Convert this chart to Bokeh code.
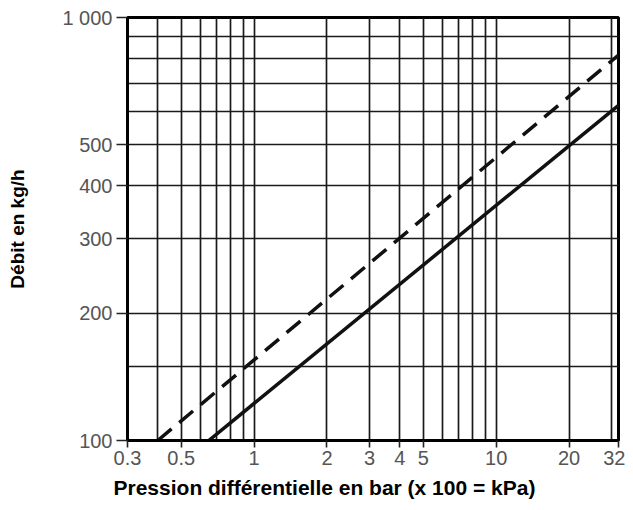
from bokeh.plotting import figure
from bokeh.models import FixedTicker, Title
from bokeh.embed import file_html
from bokeh.resources import INLINE

# Axis ticks / labels
x_ticks = [0.3, 0.5, 1, 2, 3, 4, 5, 10, 20, 32]
x_tick_labels = ["0.3", "0.5", "1", "2", "3", "4", "5", "10", "20", "32"]
y_ticks = [100, 200, 300, 400, 500, 1000]
y_tick_labels = ["100", "200", "300", "400", "500", "1 000"]

# Grid positions
x_grid = [0.4, 0.5, 0.6, 0.7, 0.8, 0.9, 1, 2, 3, 4, 5, 6, 7, 8, 9, 10, 20, 30]
y_grid = [150, 200, 300, 400, 500, 600, 700, 800, 900]

# Series (pressure in bar, flow in kg/h)
solid_x = [0.65, 32]
solid_y = [100, 620]
dashed_x = [0.4, 32]
dashed_y = [100, 815]

x_title = "Pression différentielle en bar (x 100 = kPa)"
y_title = "Débit en kg/h"

FONT = "Liberation Sans"

p = figure(width=625, height=510, x_axis_type="log", y_axis_type="log",
           x_range=(0.3, 32), y_range=(100, 1000),
           output_backend="svg", toolbar_location=None,
           min_border_left=127, min_border_right=7,
           min_border_top=17, min_border_bottom=70)

p.background_fill_color = "white"
p.border_fill_color = "white"
p.outline_line_color = "black"
p.outline_line_width = 3

p.xaxis.ticker = FixedTicker(ticks=x_ticks, minor_ticks=[])
p.yaxis.ticker = FixedTicker(ticks=y_ticks, minor_ticks=[])
p.xaxis.major_label_overrides = {float(t): l for t, l in zip(x_ticks, x_tick_labels)}
p.yaxis.major_label_overrides = {float(t): l for t, l in zip(y_ticks, y_tick_labels)}

p.xgrid.ticker = FixedTicker(ticks=x_grid, minor_ticks=[])
p.ygrid.ticker = FixedTicker(ticks=y_grid, minor_ticks=[])
for g in (p.xgrid, p.ygrid):
    g.grid_line_color = "#1a1a1a"
    g.grid_line_width = 1.7
    g.grid_line_alpha = 1.0

for ax in (p.xaxis, p.yaxis):
    ax.axis_line_color = "black"
    ax.axis_line_width = 3
    ax.major_tick_line_color = "#222222"
    ax.major_tick_line_width = 1.6
    ax.major_tick_in = 0
    ax.minor_tick_line_color = None
    ax.major_label_text_font = FONT
    ax.major_label_text_font_size = "20px"
    ax.major_label_text_color = "#555555"

p.xaxis.major_tick_out = 7
p.yaxis.major_tick_out = 11
p.xaxis.major_label_standoff = 3
p.yaxis.major_label_standoff = 4

# y title as the axis label
p.yaxis.axis_label = y_title
p.yaxis.axis_label_text_font = FONT
p.yaxis.axis_label_text_font_size = "19px"
p.yaxis.axis_label_text_font_style = "bold"
p.yaxis.axis_label_text_color = "black"
p.yaxis.axis_label_standoff = 31

# x title as a side-panel title, shifted left like the reference
p.add_layout(Title(text=x_title, align="left", offset=-14, standoff=12,
                   text_font=FONT, text_font_size="21px", text_font_style="bold",
                   text_color="black"), "below")

p.line(dashed_x, dashed_y, line_color="#111111", line_width=3.5, line_dash="18 10")
p.line(solid_x, solid_y, line_color="#111111", line_width=3.5)

open("out.html", "w").write(file_html(p, INLINE))
